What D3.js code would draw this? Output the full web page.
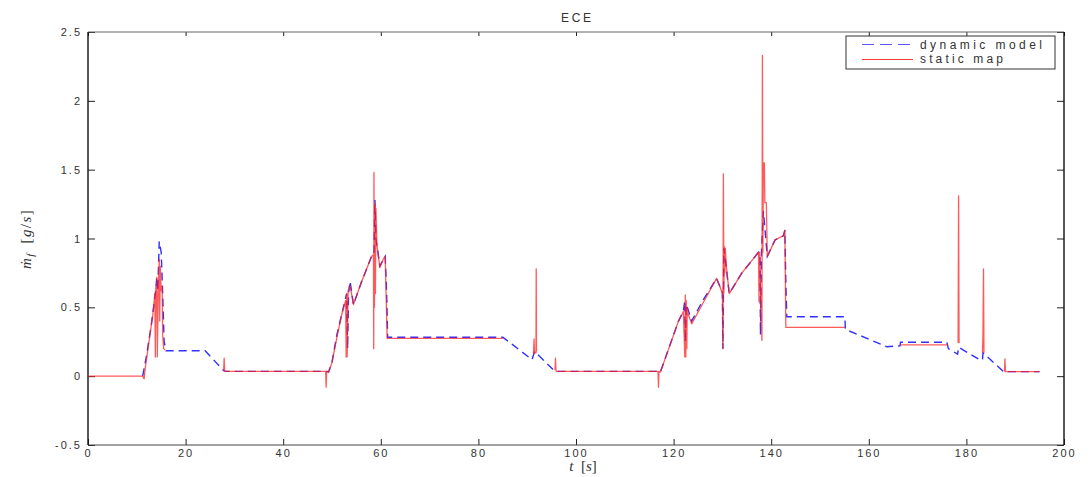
<!DOCTYPE html>
<html>
<head>
<meta charset="utf-8">
<script src="https://cdn.jsdelivr.net/npm/d3@7"></script>
<style>
  html, body { margin: 0; padding: 0; background: #fff; }
  svg { display: block; }
  .tick text { font-family: "Liberation Sans", Arial, sans-serif; font-size: 11px; fill: #333; letter-spacing: 2px; }
  .tick line { stroke: #222; stroke-width: 1; }
</style>
</head>
<body>
<svg id="chart" width="1090" height="477"></svg>
<script>
// Fuel mass flow over the ECE cycle: dynamic model vs static map
const xTicks = [0, 20, 40, 60, 80, 100, 120, 140, 160, 180, 200];
const yTicks = [-0.5, 0, 0.5, 1, 1.5, 2, 2.5];
const yTickLabels = ["-0.5", "0", "0.5", "1", "1.5", "2", "2.5"];

// dynamic model [s], [g/s]
const dynT = [11.2, 12, 13, 13.8, 14.1, 14.3, 14.6, 15.0, 15.3, 15.6, 16,
  24, 27.8, 28.2, 49, 49.3, 50, 51, 52, 53, 53.2, 53.4, 53.7, 54.4, 56, 58.1,
  58.6, 58.8, 59.0, 59.3, 59.8, 60.9, 61.2, 61.4, 85, 91, 91.5, 95.4, 96,
  117, 117.3, 118, 119, 120, 121, 122, 122.3, 122.4, 122.6, 123, 123.7, 126,
  128.8, 129.5, 130.0, 130.1, 130.3, 130.6, 131.4, 134, 137.4, 137.7, 137.8,
  138.0, 138.4, 139.2, 140.8, 142.5, 142.8, 143.0, 143.2, 155.1, 155.2, 163.7,
  166.4, 166.5, 176.0, 176.3, 178.2, 178.4, 182.8, 183.3, 183.4, 187.6, 195];
const dynV = [0, 0.15, 0.38, 0.6, 0.72, 0.62, 0.98, 0.9, 0.6, 0.25, 0.185,
  0.185, 0.04, 0.035, 0.035, 0.03, 0.1, 0.3, 0.45, 0.6, 0.2, 0.6, 0.69, 0.52, 0.68, 0.87,
  0.88, 1.28, 1.0, 0.93, 0.8, 0.87, 0.6, 0.283, 0.283, 0.12, 0.18, 0.045, 0.035,
  0.035, 0.03, 0.1, 0.2, 0.3, 0.4, 0.47, 0.55, 0.25, 0.52, 0.48, 0.4, 0.55,
  0.71, 0.65, 0.62, 0.2, 0.93, 0.85, 0.6, 0.75, 0.9, 0.88, 0.3,
  0.9, 1.2, 0.87, 0.99, 1.02, 1.06, 0.67, 0.432, 0.432, 0.34, 0.214,
  0.22, 0.246, 0.246, 0.2, 0.16, 0.21, 0.118, 0.118, 0.17, 0.033, 0.033];

// static map [s], [g/s]; null marks where the map gives no value
const mapT = [0, 11.2, 11.5, 11.7, 12.5, 13.3, 13.7, 13.8, 13.9, 14.0, 14.1, 14.2,
  14.4, 14.6, 14.7, 14.8, 15.0, 15.2, 15.3, 15.5, 15.8, 15.9,
  27.8, 27.9, 28.0, 28.2, 48.7, 48.8, 48.9, 49.3, 50, 51, 52, 52.8, 52.9, 53.0,
  53.1, 53.3, 53.7, 54.4, 56, 58.1, 58.5, 58.55, 58.6, 58.7, 58.8, 58.9, 59.0,
  59.2, 59.3, 59.8, 60.5, 60.9, 61.3, 85, 85.1,
  91.3, 91.4, 91.5, 91.8, 91.85, 91.9, 92.0,
  95.7, 95.8, 95.9, 96, 116.8, 116.9, 117.0, 117.3, 118, 119, 120, 121, 122,
  122.3, 122.4, 122.5, 122.6, 122.7, 122.8, 123.0, 123.7, 126, 128.8, 129.5,
  130.0, 130.1, 130.2, 130.3, 130.4, 130.5, 130.6, 130.8, 131.4, 134, 137.4,
  137.5, 137.6, 138.1, 138.2, 138.3, 138.4, 138.6, 138.7, 139.0, 139.2, 140.8,
  142.5, 142.8, 143.0, 155.1, 155.2,
  166.4, 176.2, 176.3,
  178.3, 178.4, 178.5, 178.6,
  183.3, 183.4, 183.5, 183.6, 183.7,
  187.8, 187.9, 188.0, 195];
const mapV = [0, 0, -0.02, 0.05, 0.25, 0.45, 0.6, 0.14, 0.65, 0.5, 0.72, 0.14,
  0.6, 0.85, 0.4, 0.8, 0.62, 0.65, 0.3, 0.2, 0.19, null,
  0.04, 0.13, 0.04, 0.035, 0.035, -0.08, 0.035, 0.03, 0.1, 0.28, 0.45, 0.55, 0.14, 0.6,
  0.14, 0.62, 0.66, 0.52, 0.68, 0.87, 0.88, 0.2, 1.48, 0.5, 1.25, 0.6, 1.22,
  0.95, 0.93, 0.79, 0.85, 0.87, 0.275, 0.275, null,
  0.16, 0.27, 0.17, 0.17, 0.78, 0.18, null,
  0.045, 0.13, 0.04, 0.035, 0.035, -0.08, 0.035, 0.03, 0.1, 0.2, 0.3, 0.4, 0.47,
  0.14, 0.59, 0.14, 0.55, 0.2, 0.5, 0.45, 0.38, 0.53, 0.71, 0.65,
  0.6, 0.2, 1.47, 0.6, 0.94, 0.75, 0.93, 0.8, 0.6, 0.75, 0.9,
  0.54, 0.9, 0.26, 2.33, 0.9, 1.55, 1.55, 1.26, 1.26, 0.87, 0.99,
  1.02, 1.06, 0.355, 0.355, null,
  0.227, 0.227, null,
  0.24, 1.31, 0.24, null,
  0.17, 0.31, 0.78, 0.17, null,
  0.033, 0.125, 0.033, 0.033];

const svg = d3.select("#chart");
const plotLeft = 88, plotRight = 1064, plotTop = 32, plotBottom = 445;

const x = d3.scaleLinear().domain([0, 200]).range([plotLeft, plotRight]);
const y = d3.scaleLinear().domain([-0.5, 2.5]).range([plotBottom, plotTop]);

// axes with inward ticks on all four sides
svg.append("g").attr("transform", `translate(0,${plotBottom})`)
  .call(d3.axisBottom(x).tickValues(xTicks).tickSizeInner(-6).tickSizeOuter(0).tickPadding(4))
  .call(g => g.select(".domain").remove());
svg.append("g").attr("transform", `translate(0,${plotTop})`)
  .call(d3.axisTop(x).tickValues(xTicks).tickSizeInner(-4).tickSizeOuter(0).tickFormat(""))
  .call(g => g.select(".domain").remove());
svg.append("g").attr("transform", `translate(${plotLeft},0)`)
  .call(d3.axisLeft(y).tickValues(yTicks).tickSizeInner(-7).tickSizeOuter(0).tickPadding(6)
    .tickFormat((d, i) => yTickLabels[i]))
  .call(g => g.select(".domain").remove());
svg.append("g").attr("transform", `translate(${plotRight},0)`)
  .call(d3.axisRight(y).tickValues(yTicks).tickSizeInner(-7).tickSizeOuter(0).tickFormat(""))
  .call(g => g.select(".domain").remove());

// axes box
svg.append("line").attr("x1", plotLeft).attr("x2", plotRight).attr("y1", plotTop).attr("y2", plotTop)
  .attr("stroke", "#666").attr("stroke-width", 1);
svg.append("line").attr("x1", plotLeft).attr("x2", plotRight).attr("y1", plotBottom).attr("y2", plotBottom)
  .attr("stroke", "#444").attr("stroke-width", 1);
svg.append("line").attr("x1", plotLeft).attr("x2", plotLeft).attr("y1", plotTop).attr("y2", plotBottom)
  .attr("stroke", "#111").attr("stroke-width", 1.4);
svg.append("line").attr("x1", plotRight).attr("x2", plotRight).attr("y1", plotTop).attr("y2", plotBottom)
  .attr("stroke", "#111").attr("stroke-width", 1.4);

// series: dashed model underneath, map trace drawn over it
const dynData = dynT.map((t, i) => [t, dynV[i]]);
const mapData = mapT.map((t, i) => [t, mapV[i]]);
const line = d3.line().defined(d => d[1] !== null && d[1] !== undefined)
  .x(d => x(d[0])).y(d => y(d[1]));

svg.append("path").datum(dynData)
  .attr("d", line).attr("fill", "none")
  .attr("stroke", "#1a1aff").attr("stroke-width", 1.4).attr("stroke-opacity", 0.9)
  .attr("stroke-dasharray", "8,5");
svg.append("path").datum(mapData)
  .attr("d", line).attr("fill", "none")
  .attr("stroke", "#ff1a1a").attr("stroke-width", 1.3).attr("stroke-opacity", 0.72)
  .attr("stroke-linejoin", "round");

// title
svg.append("text").attr("x", (plotLeft + plotRight) / 2).attr("y", 22)
  .attr("text-anchor", "middle")
  .attr("font-family", "Liberation Sans, Arial, sans-serif").attr("font-size", 12)
  .attr("fill", "#333").attr("textLength", 30).attr("lengthAdjust", "spacing")
  .text("ECE");

// x label
const xl = svg.append("text").attr("x", 583).attr("y", 471).attr("text-anchor", "middle")
  .attr("font-family", "Liberation Serif, Times New Roman, serif").attr("font-size", 15)
  .attr("fill", "#333");
xl.append("tspan").attr("font-style", "italic").text("t");
xl.append("tspan").text("\u2002[");
xl.append("tspan").attr("font-style", "italic").text("s");
xl.append("tspan").text("]");

// y label
const yl = svg.append("text").attr("transform", "translate(31,239) rotate(-90)")
  .attr("text-anchor", "middle")
  .attr("font-family", "Liberation Serif, Times New Roman, serif").attr("font-size", 15)
  .attr("fill", "#333").attr("letter-spacing", 1.4);
yl.append("tspan").attr("font-style", "italic").text("\u1E41");
yl.append("tspan").attr("font-style", "italic").attr("font-size", 11).attr("dy", 3).text("f");
yl.append("tspan").attr("dy", -3).text("\u2002[");
yl.append("tspan").attr("font-style", "italic").text("g");
yl.append("tspan").text("/");
yl.append("tspan").attr("font-style", "italic").text("s");
yl.append("tspan").text("]");

// legend
const legend = svg.append("g");
legend.append("rect").attr("x", 846).attr("y", 36).attr("width", 209).attr("height", 33)
  .attr("fill", "#fff").attr("stroke", "#333").attr("stroke-width", 1);
legend.append("line").attr("x1", 862).attr("x2", 913).attr("y1", 44.5).attr("y2", 44.5)
  .attr("stroke", "#1f1fff").attr("stroke-opacity", 0.75).attr("stroke-width", 1.2)
  .attr("stroke-dasharray", "12,6");
legend.append("line").attr("x1", 862).attr("x2", 913).attr("y1", 59.5).attr("y2", 59.5)
  .attr("stroke", "#ff3a3a").attr("stroke-width", 1);
legend.append("text").attr("x", 920).attr("y", 49)
  .attr("font-family", "Liberation Sans, Arial, sans-serif").attr("font-size", 12)
  .attr("fill", "#333").attr("textLength", 122).attr("lengthAdjust", "spacing")
  .text("dynamic model");
legend.append("text").attr("x", 920).attr("y", 63)
  .attr("font-family", "Liberation Sans, Arial, sans-serif").attr("font-size", 12)
  .attr("fill", "#333").attr("textLength", 83).attr("lengthAdjust", "spacing")
  .text("static map");
</script>
</body>
</html>
